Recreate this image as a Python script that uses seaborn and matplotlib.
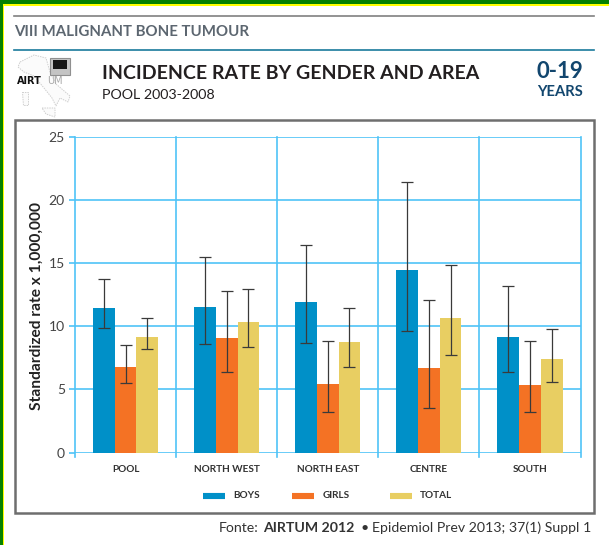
import matplotlib
matplotlib.use("Agg")
import matplotlib.pyplot as plt
from matplotlib.patches import Rectangle, Polygon
import pandas as pd
import seaborn as sns

areas = ["POOL", "NORTH WEST", "NORTH EAST", "CENTRE", "SOUTH"]
boys = [11.45, 11.57, 11.95, 14.46, 9.19]
girls = [6.76, 9.06, 5.46, 6.68, 5.33]
total = [9.19, 10.33, 8.75, 10.67, 7.4]
boys_lo = [9.85, 8.58, 8.72, 9.62, 6.39]
boys_hi = [13.74, 15.54, 16.44, 21.44, 13.24]
girls_lo = [5.49, 6.39, 3.24, 3.5, 3.24]
girls_hi = [8.5, 12.82, 8.85, 12.13, 8.85]
total_lo = [8.19, 8.37, 6.76, 7.71, 5.62]
total_hi = [10.65, 13.0, 11.5, 14.88, 9.83]
yticks = [0, 5, 10, 15, 20, 25]
colors = ["#0090C8", "#F47224", "#E8CE62"]
names = ["BOYS", "GIRLS", "TOTAL"]

W, H = 609, 545
plt.rcParams["font.family"] = ["Lato", "DejaVu Sans"]
fig = plt.figure(figsize=(W / 100, H / 100), dpi=100, facecolor="white")

def fx(x): return x / W
def fy(y): return 1 - y / H

# page furniture
bg = fig.add_axes([0, 0, 1, 1], zorder=0)
bg.set_xlim(0, W); bg.set_ylim(H, 0); bg.axis("off")
bg.add_patch(Rectangle((0, 0), W, 4.4, color="#058000", lw=0))
bg.add_patch(Rectangle((0, 0), 2.6, H, color="#058000", lw=0))
bg.add_patch(Rectangle((2.6, 4.4), W, 1.8, color="#FFFF00", lw=0))
bg.add_patch(Rectangle((2.6, 4.4), 1.8, H, color="#FFFF00", lw=0))
bg.plot([14, 594], [16, 16], color="#808080", lw=1.2)
bg.plot([14, 594], [49.5, 49.5], color="#1A7A9C", lw=1.2)
bg.add_patch(Rectangle((15, 120), 579, 393, fill=False, ec="#6E6E6E", lw=1.8))
bg.text(14, 32.5, "VIII MALIGNANT BONE TUMOUR", fontsize=10.8, fontweight="bold",
        color="#5C6670", va="center", ha="left")
bg.text(102, 73.5, "INCIDENCE RATE BY GENDER AND AREA", fontsize=14, fontweight="bold",
        color="#231F20", va="center", ha="left")
bg.text(102, 95, "POOL 2003-2008", fontsize=10.3, color="#231F20", va="center", ha="left")
bg.text(583, 72, "0-19", fontsize=16, fontweight="bold", color="#12466E", va="center", ha="right")
bg.text(583, 92, "YEARS", fontsize=10.6, fontweight="bold", color="#12466E", va="center", ha="right")

# logo: faint outline of Italy, monitor and wordmark
boot_style = dict(closed=True, fc="#FBFBFB", ec="#CFCFCF", lw=0.7, ls=(0, (1.5, 1)))
bg.add_patch(Polygon([(20, 62), (34, 55), (46, 58), (50, 72), (56, 84), (70, 96), (68, 102), (60, 98),
                      (56, 106), (52, 98), (44, 88), (34, 76), (24, 72), (18, 67)], **boot_style))
bg.add_patch(Polygon([(22, 92), (28, 92), (28, 105), (23, 105)], **boot_style))
bg.add_patch(Polygon([(42, 108), (55, 108), (55, 117), (46, 114)], **boot_style))
bg.add_patch(Rectangle((50, 58), 20, 17, fc="#C4C4C4", ec="#909090", lw=0.8))
bg.add_patch(Rectangle((53, 60), 14, 8.5, fc="#151515", lw=0))
bg.text(17, 80.5, "AIRT", fontsize=7, fontweight="bold", color="#111111", va="center", ha="left",
        family="DejaVu Sans")
bg.text(47, 80.5, "UM", fontsize=7, color="#A8A8A8", va="center", ha="left", family="DejaVu Sans")

bg.text(219, 527.5, "Fonte:", fontsize=10.2, color="#333333", va="center", ha="left")
bg.text(263, 527.5, "AIRTUM 2012", fontsize=10.2, fontweight="bold", color="#333333", va="center", ha="left")
bg.text(361, 527.5, "\u2022", fontsize=10.2, color="#333333", va="center", ha="left")
bg.text(372, 527.5, "Epidemiol Prev 2013; 37(1) Suppl 1", fontsize=10.2, color="#333333", va="center", ha="left")

# chart
left, right, top, bottom = 75, 580.5, 137.3, 452.5
ax = fig.add_axes([fx(left), fy(bottom), (right - left) / W, (bottom - top) / H], zorder=1)
ax.patch.set_alpha(0)

df = pd.DataFrame({"area": areas * 3,
                   "rate": boys + girls + total,
                   "group": [n for n in names for _ in areas]})
sns.barplot(data=df, x="area", y="rate", hue="group", hue_order=names, palette=colors,
            width=0.645, gap=0, saturation=1, legend=False, ax=ax, zorder=2, errorbar=None)
ax.set_xlim(-0.5, 4.5)
ax.set_ylim(0, 25)
ax.set_yticks(yticks)
ax.set_xlabel("")
ax.set_ylabel("Standardized rate x 1,000,000", fontsize=11.2, fontweight="bold", color="#222222")
ax.yaxis.set_label_coords(-0.061, 0.465)
grid_c = "#4FC3F7"
ax.yaxis.grid(True, color=grid_c, lw=1.2)
ax.set_axisbelow(True)
for v in [-0.5, 0.5, 1.5, 2.5, 3.5, 4.5]:
    ax.plot([v, v], [-0.35, 25], color=grid_c, lw=1.2, clip_on=False, zorder=1)
for s in ax.spines.values():
    s.set_visible(False)
ax.tick_params(axis="y", length=4.3, width=1.2, color=grid_c, labelsize=10, labelcolor="#444444", pad=3)
ax.tick_params(axis="x", length=0, labelsize=7.2, labelcolor="#333333", pad=9)
for lab in ax.get_xticklabels():
    lab.set_fontweight("bold")

# error bars, centred on the bars seaborn drew
lows = [boys_lo, girls_lo, total_lo]
highs = [boys_hi, girls_hi, total_hi]
for cont, lo, hi in zip(ax.containers, lows, highs):
    xs = [p.get_x() + p.get_width() / 2 for p in cont.patches]
    ys = [p.get_height() for p in cont.patches]
    ax.errorbar(xs, ys, yerr=[[y - l for y, l in zip(ys, lo)], [h - y for y, h in zip(ys, hi)]],
                fmt="none", ecolor="#3A3A3A", elinewidth=0.9, capsize=4.3, capthick=0.9, zorder=4)

# legend
for x0, tx, c, n in zip([203, 292, 390], [233, 323, 420], colors, names):
    bg.plot([x0, x0 + 22], [495.5, 495.5], color=c, lw=4.4, solid_capstyle="butt")
    bg.text(tx, 495.5, n, fontsize=7.2, fontweight="bold", color="#333333", va="center", ha="left")

fig.savefig("out.png", dpi=100)
